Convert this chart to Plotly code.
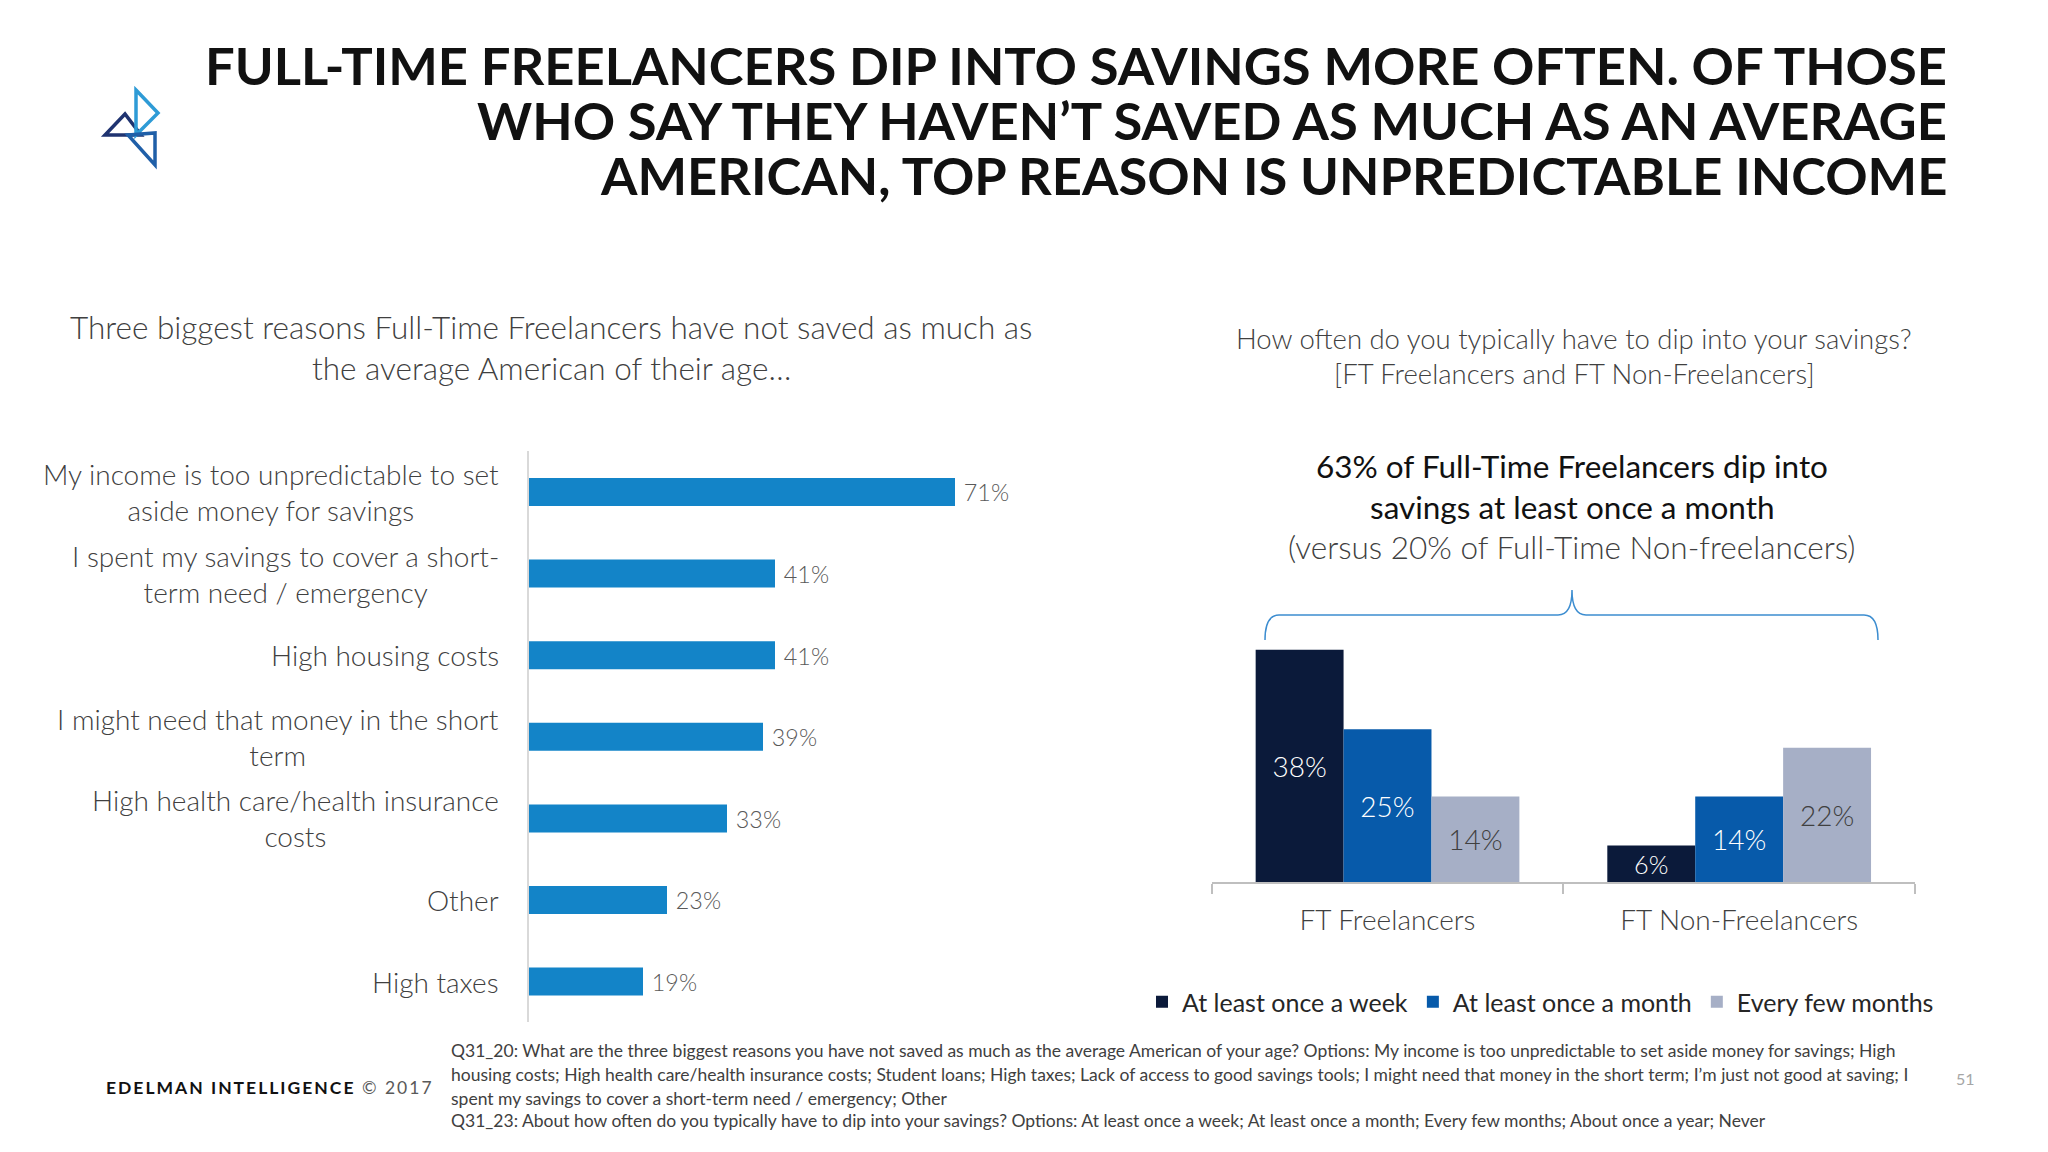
import plotly.graph_objects as go

# ---------------- data ----------------
reasons = [
    "My income is too unpredictable to set<br>aside money for savings",
    "I spent my savings to cover a short-<br>term need / emergency",
    "High housing costs",
    "I might need that money in the short<br>term",
    "High health care/health insurance<br>costs",
    "Other",
    "High taxes",
]
reason_values = [71, 41, 41, 39, 33, 23, 19]

groups = ["FT Freelancers", "FT Non-Freelancers"]
series_names = ["At least once a week", "At least once a month", "Every few months"]
week_values = [38, 6]
month_values = [25, 14]
few_months_values = [14, 22]

title_lines = [
    "FULL-TIME FREELANCERS DIP INTO SAVINGS MORE OFTEN. OF THOSE",
    "WHO SAY THEY HAVEN’T SAVED AS MUCH AS AN AVERAGE",
    "AMERICAN, TOP REASON IS UNPREDICTABLE INCOME",
]
left_sub = [
    "Three biggest reasons Full-Time Freelancers have not saved as much as",
    "the average American of their age…",
]
right_sub = [
    "How often do you typically have to dip into your savings?",
    "[FT Freelancers and FT Non-Freelancers]",
]
callout = [
    "63% of Full-Time Freelancers dip into",
    "savings at least once a month",
    "(versus 20% of Full-Time Non-freelancers)",
]
footnotes = [
    "Q31_20: What are the three biggest reasons you have not saved as much as the average American of your age? Options: My income is too unpredictable to set aside money for savings; High",
    "housing costs; High health care/health insurance costs; Student loans; High taxes; Lack of access to good savings tools; I might need that money in the short term; I’m just not good at saving; I",
    "spent my savings to cover a short-term need / emergency; Other",
    "Q31_23: About how often do you typically have to dip into your savings? Options: At least once a week; At least once a month; Every few months; About once a year; Never",
]

# ---------------- layout helpers ----------------
W, H = 2048, 1152
OFF = 8  # page body margin
def px(x):
    return (x - OFF) / W
def py(y):
    return 1 - (y - OFF) / H

FONT = "Lato, 'Source Sans Pro', 'Open Sans', sans-serif"
DARK = "#404040"
GAP = "\u2009\u2009"

fig = go.Figure()

# left horizontal bars
fig.add_trace(go.Bar(
    y=reasons, x=reason_values, orientation="h",
    marker=dict(color="#1384C8", line=dict(width=0)),
    width=0.343, offset=-0.1715,
    text=[f"{GAP}{v}%" for v in reason_values], textposition="outside",
    textfont=dict(size=30, color="#595959", family=FONT, weight=300),
    cliponaxis=False, showlegend=False, hoverinfo="skip",
    xaxis="x", yaxis="y",
))

# right grouped bars
series_vals = [week_values, month_values, few_months_values]
series_cols = ["#0B1A3A", "#075AAA", "#A6AFC6"]
text_cols = ["#FFFFFF", "#FFFFFF", "#404040"]
for i, (nm, vals, col, tc) in enumerate(zip(series_names, series_vals, series_cols, text_cols)):
    fig.add_trace(go.Bar(
        x=groups, y=vals, name=nm,
        marker=dict(color=col, line=dict(width=0)),
        width=0.25, offset=-0.375 + i * 0.25,
        text=[f"{v}%" for v in vals], textposition="inside",
        insidetextanchor="middle", textangle=0,
        textfont=dict(size=28, color=tc, family=FONT, weight=300),
        hoverinfo="skip", xaxis="x2", yaxis="y2",
    ))

annotations = []

# title
for ln, yy in zip(title_lines, [65, 120, 174]):
    annotations.append(dict(
        text=ln, x=px(1949), y=py(yy), xref="paper", yref="paper",
        xanchor="right", yanchor="middle", showarrow=False,
        font=dict(size=52.5, color="#111111", family=FONT, weight="bold"),
    ))

# left category labels (centered lines, right-aligned block)
for r in reasons:
    annotations.append(dict(
        text=r, x=px(529), xshift=-28, y=r, xref="paper", yref="y",
        xanchor="right", yanchor="middle", align="center", showarrow=False,
        font=dict(size=28, color=DARK, family=FONT, weight=300),
    ))

# subtitles
for ln, yy in zip(left_sub, [327, 368]):
    annotations.append(dict(
        text=ln, x=px(551), y=py(yy), xref="paper", yref="paper",
        xanchor="center", yanchor="middle", showarrow=False,
        font=dict(size=31.5, color=DARK, family=FONT, weight=300),
    ))
for ln, yy in zip(right_sub, [339, 374]):
    annotations.append(dict(
        text=ln, x=px(1574), y=py(yy), xref="paper", yref="paper",
        xanchor="center", yanchor="middle", showarrow=False,
        font=dict(size=27.5, color=DARK, family=FONT, weight=300),
    ))

# callout
for k, (ln, yy) in enumerate(zip(callout, [466, 507, 547])):
    annotations.append(dict(
        text=ln, x=px(1572), y=py(yy), xref="paper", yref="paper",
        xanchor="center", yanchor="middle", showarrow=False,
        font=dict(size=31.5, color="#111111" if k < 2 else DARK, family=FONT,
                  weight="normal" if k < 2 else 300),
    ))

# footnotes
for ln, yy in zip(footnotes, [1050, 1074, 1098, 1120]):
    annotations.append(dict(
        text=ln, x=px(449), y=py(yy), xref="paper", yref="paper",
        xanchor="left", yanchor="middle", showarrow=False,
        font=dict(size=17.5, color=DARK, family=FONT),
    ))

# footer
annotations.append(dict(
    text="<span style='letter-spacing:2px'><b>EDELMAN INTELLIGENCE</b> "
         "<span style='color:#595959'>© 2017</span></span>",
    x=px(104), y=py(1087), xref="paper", yref="paper",
    xanchor="left", yanchor="middle", showarrow=False,
    font=dict(size=17.5, color="#111111", family=FONT),
))
annotations.append(dict(
    text="51", x=px(1965), y=py(1078), xref="paper", yref="paper",
    xanchor="center", yanchor="middle", showarrow=False,
    font=dict(size=16, color="#A6A6A6", family=FONT),
))

# ---------------- shapes (logo + brace) ----------------
def path(points, close=False):
    s = "M " + " L ".join(f"{px(x):.5f},{py(y):.5f}" for x, y in points)
    return s + (" Z" if close else "")

shapes = [
    dict(type="path", xref="paper", yref="paper",
         path=path([(125, 114), (105, 135), (141, 135)], close=True),
         line=dict(color="#1F3370", width=3.5)),
    dict(type="path", xref="paper", yref="paper",
         path=path([(136, 90), (158, 113), (136, 135)], close=True),
         line=dict(color="#2E9BD6", width=3.5)),
    dict(type="path", xref="paper", yref="paper",
         path=path([(128, 135), (155, 133), (155, 165)], close=True),
         line=dict(color="#1F5FA8", width=3.5)),
]

def P(x, y):
    return f"{px(x):.5f},{py(y):.5f}"

brace = (f"M {P(1265, 640)} Q {P(1265, 615)} {P(1279, 615)} L {P(1558, 615)} "
         f"Q {P(1572, 615)} {P(1572, 590)} Q {P(1572, 615)} {P(1586, 615)} "
         f"L {P(1864, 615)} Q {P(1878, 615)} {P(1878, 640)}")
shapes.append(dict(type="path", xref="paper", yref="paper", path=brace,
                   line=dict(color="#3C8DD0", width=1.5)))

BASE = 882.3
fig.update_layout(
    width=W, height=H, margin=dict(l=0, r=0, t=0, b=0),
    paper_bgcolor="white", plot_bgcolor="white",
    font=dict(family=FONT, color=DARK),
    barmode="group",
    xaxis=dict(domain=[px(529), px(1129)], range=[0, 100], visible=False,
               showgrid=False, zeroline=False, anchor="y"),
    yaxis=dict(domain=[py(1022.4), py(451.2)], type="category",
               categoryorder="array", categoryarray=reasons,
               range=[6.5, -0.5], showline=True, linecolor="#D9D9D9",
               linewidth=1.5, showticklabels=False, ticks="", showgrid=False,
               zeroline=False, anchor="x"),
    xaxis2=dict(domain=[px(1211.7), px(1915)], type="category",
                range=[-0.5, 1.5], showline=True, linecolor="#BFBFBF",
                linewidth=1.5, ticks="outside", tickson="boundaries",
                ticklen=10, tickcolor="#BFBFBF", tickwidth=1.5,
                ticklabelstandoff=12,
                tickfont=dict(size=28, color=DARK, family=FONT, weight=300),
                showgrid=False, zeroline=False, anchor="y2"),
    yaxis2=dict(domain=[py(BASE), py(BASE - 244.8)], range=[0, 40], visible=False,
                showgrid=False, zeroline=False, anchor="x2"),
    legend=dict(orientation="h", x=px(1142), xanchor="left",
                y=py(1002), yanchor="middle",
                font=dict(size=25, color="#262626", family=FONT),
                bgcolor="rgba(0,0,0,0)", itemwidth=30, traceorder="normal"),
    annotations=annotations,
    shapes=shapes,
)

fig.write_html("out.html")
